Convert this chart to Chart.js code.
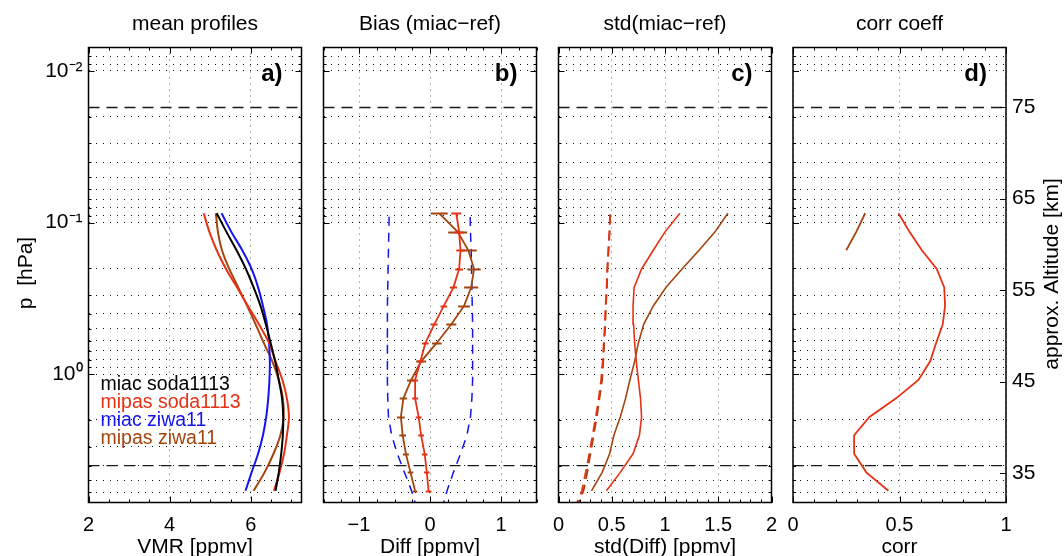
<!DOCTYPE html>
<html>
<head>
<meta charset="utf-8">
<script src="https://cdn.jsdelivr.net/npm/chart.js@4.4.0/dist/chart.umd.min.js"></script>
<style>
  body { margin: 0; background: #fff; }
  #wrap { position: relative; width: 1064px; height: 556px; overflow: hidden; }
  #wrap canvas { position: absolute; left: 0; top: 0; }
</style>
</head>
<body>
<div id="wrap">
  <canvas id="panelA" width="1064" height="556"></canvas>
  <canvas id="panelB" width="1064" height="556"></canvas>
  <canvas id="panelC" width="1064" height="556"></canvas>
  <canvas id="panelD" width="1064" height="556"></canvas>
</div>
<script>
// ---- data ----
// pressure levels [hPa], lowest altitude first (the first one lies below the plotted range)
const pressure = [7.75, 5.86, 4.43, 3.34, 2.52, 1.91, 1.44, 1.09, 0.821, 0.621, 0.468, 0.354, 0.267, 0.202, 0.152, 0.115, 0.0867];
const pressureTicks = [0.008, 0.009, 0.01, 0.02, 0.03, 0.04, 0.05, 0.06, 0.07, 0.08, 0.09,
                       0.1, 0.2, 0.3, 0.4, 0.5, 0.6, 0.7, 0.8, 0.9, 1, 2, 3, 4, 5, 6];
const decadeLabel = {0.01: '10\u207B\u00B2', 0.1: '10\u207B\u00B9', 1: '10\u2070'};
const refLevels = [0.0174, 4.0];
const altTicks = [35, 45, 55, 65, 75];
const seriesNames = ['miac soda1113', 'mipas soda1113', 'miac ziwa11', 'mipas ziwa11'];

// a) mean profiles [ppmv]
const vmrMiacSoda  = [null, 6.61, 6.69, 6.75, 6.79, 6.80, 6.77, 6.69, 6.60, 6.49, 6.37, 6.24, 6.07, 5.88, 5.65, 5.40, 5.16];
const vmrMipasSoda = [null, 6.57, 6.71, 6.82, 6.89, 6.94, 6.89, 6.78, 6.61, 6.45, 6.20, 5.93, 5.66, 5.39, 5.16, 4.98, 4.84];
const vmrMiacZiwa  = [null, 5.87, 6.02, 6.18, 6.30, 6.38, 6.43, 6.46, 6.47, 6.45, 6.40, 6.30, 6.18, 6.02, 5.79, 5.52, 5.28];
const vmrMipasZiwa = [null, 6.07, 6.34, 6.56, 6.73, 6.81, 6.79, 6.69, 6.53, 6.32, 6.12, 5.91, 5.69, 5.47, 5.29, 5.19, 5.14];

// b) bias (miac-ref) [ppmv], error bars and the blue error envelope
const biasSoda    = [null, -0.02, -0.045, -0.075, -0.125, -0.16, -0.21, -0.21, -0.135, -0.065, 0.06, 0.195, 0.33, 0.41, 0.43, 0.41, 0.37];
const biasSodaErr = [null, 0.04, 0.04, 0.04, 0.04, 0.042, 0.042, 0.042, 0.045, 0.045, 0.047, 0.047, 0.05, 0.055, 0.06, 0.065, 0.07];
const biasZiwa    = [null, -0.21, -0.275, -0.34, -0.385, -0.41, -0.375, -0.265, -0.125, 0.095, 0.30, 0.48, 0.58, 0.62, 0.54, 0.39, 0.13];
const biasZiwaErr = [null, 0.033, 0.04, 0.042, 0.047, 0.054, 0.052, 0.059, 0.07, 0.068, 0.071, 0.083, 0.10, 0.094, 0.118, 0.134, 0.12];
const biasEnvLow  = [-0.183, -0.26, -0.36, -0.46, -0.54, -0.585, -0.595, -0.60, -0.60, -0.60, -0.60, -0.60, -0.595, -0.59, -0.585, -0.58, -0.575];
const biasEnvHigh = [0.163, 0.24, 0.33, 0.43, 0.52, 0.57, 0.59, 0.60, 0.60, 0.60, 0.60, 0.595, 0.59, 0.585, 0.58, 0.57, 0.565];

// c) std(miac-ref) [ppmv], solid = observed, dashed = expected
const stdSoda    = [null, 0.45, 0.58, 0.70, 0.76, 0.78, 0.77, 0.75, 0.73, 0.715, 0.705, 0.70, 0.71, 0.78, 0.89, 1.00, 1.14];
const stdZiwa    = [null, 0.31, 0.41, 0.48, 0.52, 0.58, 0.63, 0.67, 0.715, 0.75, 0.80, 0.89, 1.01, 1.16, 1.32, 1.47, 1.59];
const stdExpSoda = [0.15, 0.22, 0.255, 0.29, 0.32, 0.35, 0.378, 0.40, 0.415, 0.425, 0.435, 0.442, 0.452, 0.458, 0.468, 0.478, 0.484];
const stdExpZiwa = [0.165, 0.235, 0.27, 0.30, 0.33, 0.36, 0.385, 0.41, 0.42, 0.43, 0.44, 0.445, 0.455, 0.46, 0.47, 0.48, 0.486];

// d) correlation coefficient
const corrSoda = [null, 0.448, 0.344, 0.287, 0.287, 0.359, 0.484, 0.589, 0.644, 0.672, 0.703, 0.714, 0.71, 0.675, 0.605, 0.547, 0.495];
const corrZiwa = [null, null, null, null, null, null, null, null, null, null, null, null, null, null, 0.25, 0.297, 0.339];

// ---- styling ----
const FONT = "'Liberation Sans', Arial, Helvetica, sans-serif";
const BLACK = '#000000', RED = '#e63214', BLUE = '#1414f0', BROWN = '#a3450f';
const seriesColors = [BLACK, RED, BLUE, BROWN];
const W = 1064, H = 556, TOP = 47.5, BOTTOM = 502.5, PW = 213;
const YAXIS_W = 70, XAXIS_H = 45, ALT_W = 50;

Chart.defaults.font.family = FONT;
Chart.defaults.color = '#000';

function profile(values) {
    return values.map((v, i) => ({x: v, y: pressure[i]})).filter(d => d.x !== null);
}

function line(label, values, color, width, extra) {
    return Object.assign({
        label: label,
        data: profile(values),
        showLine: true,
        borderColor: color,
        backgroundColor: color,
        borderWidth: width,
        pointRadius: 0,
        tension: 0
    }, extra || {});
}

function fmtTick(v) {
    return v < 0 ? '\u2212' + Math.abs(v) : String(v);
}

// fixed axis sizes so every panel's plot area lands on the same pixels
function fixSize(scale, size) {
    if (scale.isHorizontal()) scale.height = size; else scale.width = size;
    scale.paddingLeft = scale.paddingRight = scale.paddingTop = scale.paddingBottom = 0;
}

// box, inward ticks, titles, letters, error bars
function decor(opt) {
    return {
        id: 'decor',
        afterDatasetsDraw(chart) {
            if (!opt.errorBars) return;
            const {ctx, scales: {x, y}} = chart;
            ctx.save();
            opt.errorBars.forEach(eb => {
                ctx.strokeStyle = eb.color;
                ctx.lineWidth = 2;
                ctx.beginPath();
                eb.values.forEach((v, i) => {
                    if (v === null) return;
                    const py = Math.round(y.getPixelForValue(pressure[i])) + 0.5;
                    ctx.moveTo(x.getPixelForValue(v - eb.errs[i]), py);
                    ctx.lineTo(x.getPixelForValue(v + eb.errs[i]), py);
                });
                ctx.stroke();
            });
            ctx.restore();
        },
        afterDraw(chart) {
            const {ctx, chartArea: a, scales: {x, y}} = chart;
            ctx.save();
            ctx.strokeStyle = '#000';
            ctx.lineWidth = 1;
            ctx.beginPath();
            pressureTicks.forEach(p => {
                const py = Math.round(y.getPixelForValue(p)) + 0.5;
                const len = decadeLabel[p] ? 6 : 3;
                ctx.moveTo(a.left, py); ctx.lineTo(a.left + len, py);
                if (!opt.altAxis) { ctx.moveTo(a.right, py); ctx.lineTo(a.right - len, py); }
            });
            opt.xTicks.forEach(v => {
                const px = Math.round(x.getPixelForValue(v)) + 0.5;
                ctx.moveTo(px, a.bottom); ctx.lineTo(px, a.bottom - 6);
                ctx.moveTo(px, a.top); ctx.lineTo(px, a.top + 6);
            });
            for (let v = opt.xMin; v <= opt.xMax + 1e-9; v += opt.minorStep) {
                const px = Math.round(x.getPixelForValue(v)) + 0.5;
                ctx.moveTo(px, a.bottom); ctx.lineTo(px, a.bottom - 3);
                ctx.moveTo(px, a.top); ctx.lineTo(px, a.top + 3);
            }
            if (opt.altAxis) {
                altTicks.forEach(z => {
                    const py = Math.round(chart.scales.alt.getPixelForValue(z)) + 0.5;
                    ctx.moveTo(a.right, py); ctx.lineTo(a.right - 6, py);
                });
            }
            ctx.stroke();
            ctx.lineWidth = 1.5;
            ctx.strokeRect(a.left, a.top, a.right - a.left, a.bottom - a.top);

            const cx = (a.left + a.right) / 2;
            ctx.fillStyle = '#000';
            ctx.textAlign = 'center';
            ctx.textBaseline = 'middle';
            ctx.font = '21px ' + FONT;
            ctx.fillText(opt.title, cx, 24);
            ctx.fillText(opt.xLabel, cx, 547);
            ctx.font = 'bold 24px ' + FONT;
            ctx.textAlign = 'right';
            ctx.textBaseline = 'alphabetic';
            ctx.fillText(opt.letter, a.right - 19, 81);
            if (opt.extra) opt.extra(ctx, a);
            ctx.restore();
        }
    };
}

function makePanel(id, opt) {
    const refSets = refLevels.map(p => ({
        label: 'ref',
        data: [{x: opt.xMin, y: p}, {x: opt.xMax, y: p}],
        showLine: true,
        borderColor: '#1a1a1a',
        borderWidth: 1.3,
        borderDash: [11, 7],
        pointRadius: 0
    }));
    const yW = opt.yLabels ? YAXIS_W : 0;
    const altW = opt.altAxis ? ALT_W : 0;
    const scales = {
        x: {
            type: 'linear',
            min: opt.xMin,
            max: opt.xMax,
            afterBuildTicks: s => { s.ticks = opt.xTicks.map(v => ({value: v})); },
            afterFit: s => fixSize(s, XAXIS_H),
            ticks: {font: {size: 20}, padding: 11, autoSkip: false, maxRotation: 0, callback: v => fmtTick(v)},
            grid: {color: '#666', lineWidth: 1, drawTicks: false},
            border: {display: false, dash: [1, 5]}
        },
        y: {
            type: 'logarithmic',
            reverse: true,
            min: 0.007,
            max: 7,
            afterBuildTicks: s => { s.ticks = pressureTicks.map(v => ({value: v})); },
            afterFit: s => fixSize(s, yW),
            ticks: {display: !!opt.yLabels, font: {size: 21}, padding: 6, autoSkip: false,
                    callback: v => decadeLabel[v] || ''},
            grid: {color: '#111', lineWidth: 1, drawTicks: false},
            border: {display: false, dash: [1, 6]}
        }
    };
    if (opt.altAxis) {
        scales.alt = {
            type: 'linear',
            position: 'right',
            min: 31.79,
            max: 81.51,
            afterBuildTicks: s => { s.ticks = altTicks.map(v => ({value: v})); },
            afterFit: s => fixSize(s, ALT_W),
            ticks: {font: {size: 21}, padding: 6, autoSkip: false},
            grid: {display: false, drawTicks: false},
            border: {display: false}
        };
    }
    return new Chart(document.getElementById(id).getContext('2d'), {
        type: 'scatter',
        data: {datasets: opt.datasets.concat(refSets)},
        options: {
            responsive: false,
            animation: false,
            events: [],
            layout: {padding: {
                left: opt.left - yW,
                right: W - opt.left - PW - altW,
                top: TOP,
                bottom: H - BOTTOM - XAXIS_H
            }},
            plugins: {legend: {display: false}, tooltip: {enabled: false}},
            scales: scales
        },
        plugins: [decor(opt)]
    });
}

function drawLegend(ctx, a) {
    ctx.font = '19.5px ' + FONT;
    ctx.textAlign = 'left';
    ctx.textBaseline = 'middle';
    seriesNames.forEach((name, i) => {
        ctx.fillStyle = seriesColors[i];
        ctx.fillText(name, a.left + 12, 385 + i * 17.8);
    });
    ctx.fillStyle = '#000';
    ctx.font = '21px ' + FONT;
    ctx.textAlign = 'center';
    ctx.save();
    ctx.translate(26, 273);
    ctx.rotate(-Math.PI / 2);
    ctx.fillText('p  [hPa]', 0, 0);
    ctx.restore();
}

function drawAltLabel(ctx) {
    ctx.fillStyle = '#000';
    ctx.font = '21px ' + FONT;
    ctx.textAlign = 'center';
    ctx.textBaseline = 'middle';
    ctx.save();
    ctx.translate(1052, 274);
    ctx.rotate(-Math.PI / 2);
    ctx.fillText('approx. Altitude [km]', 0, 0);
    ctx.restore();
}

makePanel('panelA', {
    left: 88.5, xMin: 2, xMax: 7.25, xTicks: [2, 4, 6], minorStep: 0.5,
    title: 'mean profiles', xLabel: 'VMR [ppmv]', letter: 'a)', yLabels: true,
    extra: drawLegend,
    datasets: [
        line(seriesNames[0], vmrMiacSoda, BLACK, 2, {tension: 0.35}),
        line(seriesNames[1], vmrMipasSoda, RED, 2, {tension: 0.35}),
        line(seriesNames[2], vmrMiacZiwa, BLUE, 2, {tension: 0.35}),
        line(seriesNames[3], vmrMipasZiwa, BROWN, 2, {tension: 0.35})
    ]
});

makePanel('panelB', {
    left: 323.5, xMin: -1.5, xMax: 1.5, xTicks: [-1, 0, 1], minorStep: 0.25,
    title: 'Bias (miac\u2212ref)', xLabel: 'Diff [ppmv]', letter: 'b)',
    errorBars: [
        {values: biasZiwa, errs: biasZiwaErr, color: BROWN},
        {values: biasSoda, errs: biasSodaErr, color: RED}
    ],
    datasets: [
        line('soda1113', biasSoda, RED, 1.8),
        line('ziwa11', biasZiwa, BROWN, 1.8),
        line('err low', biasEnvLow, BLUE, 1.5, {borderDash: [9, 7]}),
        line('err high', biasEnvHigh, BLUE, 1.5, {borderDash: [9, 7]})
    ]
});

makePanel('panelC', {
    left: 558.5, xMin: 0, xMax: 2, xTicks: [0, 0.5, 1, 1.5, 2], minorStep: 0.1,
    title: 'std(miac\u2212ref)', xLabel: 'std(Diff) [ppmv]', letter: 'c)',
    datasets: [
        line('soda1113', stdSoda, RED, 1.6),
        line('ziwa11', stdZiwa, BROWN, 1.6),
        line('soda1113 exp', stdExpSoda, RED, 1.8, {borderDash: [10, 6]}),
        line('ziwa11 exp', stdExpZiwa, BROWN, 1.8, {borderDash: [10, 6]})
    ]
});

makePanel('panelD', {
    left: 793, xMin: 0, xMax: 1, xTicks: [0, 0.5, 1], minorStep: 0.1,
    title: 'corr coeff', xLabel: 'corr', letter: 'd)', altAxis: true,
    extra: drawAltLabel,
    datasets: [
        line('soda1113', corrSoda, RED, 1.8),
        line('ziwa11', corrZiwa, BROWN, 1.8)
    ]
});
</script>
</body>
</html>
